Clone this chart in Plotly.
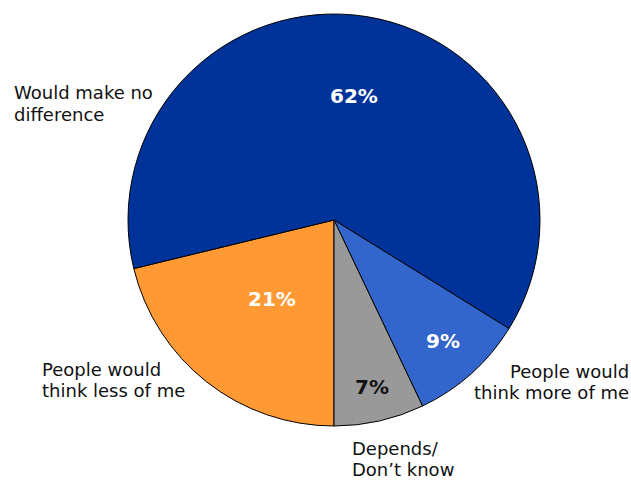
import math
import plotly.graph_objects as go

# ---- data ----
categories = ["People would<br>think less of me", "Would make no<br>difference",
              "People would<br>think more of me", "Depends/<br>Don\u2019t know"]
values = [21, 62, 9, 7]
pct_labels = ["21%", "62%", "9%", "7%"]

# ---- style ----
colors = ["#FF9933", "#003399", "#3366CC", "#999999"]
pct_colors = ["white", "white", "white", "#111111"]
pct_radius = [0.49, 0.61, 0.79, 0.83]   # fraction of radius for % labels
W, H = 631, 481
cx, cy, R = 334, 220, 206
rotation = 180
line_gap = 21

fig = go.Figure(go.Pie(
    labels=categories, values=values, sort=False, direction="clockwise",
    rotation=rotation, textinfo="none", hoverinfo="label+value",
    marker=dict(colors=colors, line=dict(color="black", width=1)),
    domain=dict(x=[(cx - R) / W, (cx + R) / W],
                y=[1 - (cy + R) / H, 1 - (cy - R) / H]),
    showlegend=False,
))

# percentage labels at slice mid-angles
total = sum(values)
start = rotation
for v, t, c, rf in zip(values, pct_labels, pct_colors, pct_radius):
    span = v / total * 360
    mid = math.radians(start + span / 2)
    start += span
    px = cx + rf * R * math.sin(mid)
    py = cy - rf * R * math.cos(mid)
    fig.add_annotation(x=px / W, y=1 - py / H, xref="paper", yref="paper",
                       text=t, showarrow=False, xanchor="center", yanchor="middle",
                       font=dict(family="DejaVu Sans", size=20, color=c, weight="bold"))

# category labels
lab_font = dict(family="DejaVu Sans", size=18, color="#111111")
label_pos = [  # (x px, first-line y px, xanchor)
    (40, 369, "left"),
    (12, 93, "left"),
    (631, 371, "right"),
    (350, 448, "left"),
]
for text, (x, y, xa) in zip(categories, label_pos):
    for i, line in enumerate(text.split("<br>")):
        fig.add_annotation(x=x / W, y=1 - (y + i * line_gap) / H,
                           xref="paper", yref="paper",
                           text=line, showarrow=False, xanchor=xa, yanchor="middle",
                           align=xa, font=lab_font)

fig.update_layout(width=W, height=H, margin=dict(l=0, r=0, t=0, b=0),
                  paper_bgcolor="white", plot_bgcolor="white")
fig.write_html("out.html", config={"displayModeBar": False},
               post_script="document.body.style.margin='0';document.body.style.overflow='hidden';")
